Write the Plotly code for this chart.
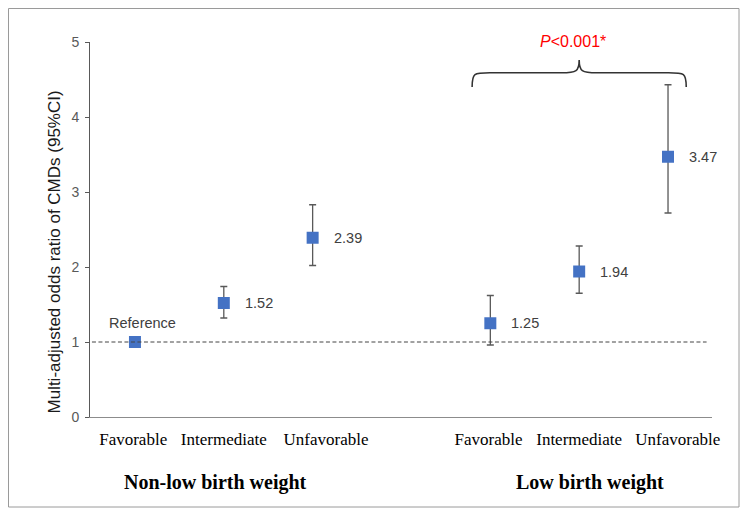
import plotly.graph_objects as go

# ---- data ----
categories = ["Favorable", "Intermediate", "Unfavorable"]
groups = ["Non-low birth weight", "Low birth weight"]
positions = [0, 1, 2, 4, 5, 6]
odds_ratio = [1.00, 1.52, 2.39, 1.25, 1.94, 3.47]
ci_low = [1.00, 1.32, 2.02, 0.96, 1.65, 2.72]
ci_high = [1.00, 1.74, 2.83, 1.62, 2.28, 4.43]
value_labels = ["", "1.52", "2.39", "1.25", "1.94", "3.47"]
tick_labels = categories + categories
y_ticks = [0, 1, 2, 3, 4, 5]

err_plus = [h - v for h, v in zip(ci_high, odds_ratio)]
err_minus = [v - l for l, v in zip(ci_low, odds_ratio)]
err_visible = [lbl != "" for lbl in value_labels]

SANS = "Liberation Sans, Arial, sans-serif"
SERIF = "Liberation Serif, Times New Roman, serif"

# figure is placed 8px in from the page edge (default body margin)
W, H = 740, 501
ML, MR, MT, MB = 82, 36, 34, 92
PW, PH = W - ML - MR, H - MT - MB

# small horizontal nudges of the category tick labels (as in the original layout)
label_nudge = [-0.02, 0.0, 0.15, -0.02, 0.0, 0.11]
tick_pos = [p + n for p, n in zip(positions, label_nudge)]

fig = go.Figure()
fig.add_trace(go.Scatter(
    x=positions, y=odds_ratio, mode="markers",
    marker=dict(symbol="square", size=12, color="#4472C4"),
    error_y=dict(type="data", symmetric=False,
                 array=[p if v else 0 for p, v in zip(err_plus, err_visible)],
                 arrayminus=[m if v else 0 for m, v in zip(err_minus, err_visible)],
                 color="#595959", thickness=1.3, width=3.5),
    showlegend=False, hoverinfo="skip"))

# value labels
for x, y, t in zip(positions, odds_ratio, value_labels):
    if t:
        fig.add_annotation(x=x, y=y, text=t, showarrow=False, xanchor="left",
                           xshift=19, font=dict(family=SANS, size=14.5, color="#404040"))
fig.add_annotation(x=positions[0], y=odds_ratio[0], text="Reference", showarrow=False,
                   yshift=19, xshift=8, font=dict(family=SANS, size=14.5, color="#404040"))

# reference line
fig.add_shape(type="line", xref="x", yref="y", x0=-0.484, x1=6.434, y0=1, y1=1,
              line=dict(color="#444444", width=1, dash="4px,2.5px"))

# brace over low birth weight group
xc = positions[4]
half = 1.205
x0, x1 = xc - half, xc + half
yb, ym, yt = 4.40, 4.59, 4.76
d = 0.2
path = (f"M {x0},{yb} C {x0},{ym} {x0+0.02},{ym} {x0+d},{ym} "
        f"L {xc-d},{ym} C {xc-0.03},{ym} {xc},{ym+0.02} {xc},{yt} "
        f"C {xc},{ym+0.02} {xc+0.03},{ym} {xc+d},{ym} "
        f"L {x1-d},{ym} C {x1-0.02},{ym} {x1},{ym} {x1},{yb}")
fig.add_shape(type="path", xref="x", yref="y", path=path,
              line=dict(color="#333333", width=1.6))
fig.add_annotation(x=xc, y=(MT + PH - 33) / PH, yref="paper", yanchor="middle",
                   text="<i>P</i><0.001*", showarrow=False, xshift=-6,
                   font=dict(family=SANS, size=16, color="#FF0000"))

# group labels
for gx, g in zip([0.91, 5.12], groups):
    fig.add_annotation(x=gx, xref="x", y=(PH + MT - (482 - 8)) / PH, yref="paper", yanchor="middle",
                       text=f"<b>{g}</b>", showarrow=False,
                       font=dict(family=SERIF, size=20, color="#000000"))

# y-axis title
fig.add_annotation(x=(34 - ML) / PW, xref="paper", y=2.2, yref="y", text="Multi-adjusted odds ratio of CMDs (95%CI)",
                   textangle=-90, showarrow=False, font=dict(family=SANS, size=17, color="#1a1a1a"))

# figure border
fig.add_shape(type="rect", xref="paper", yref="paper",
              x0=(0.5 - ML) / PW, x1=(731 - ML) / PW, y0=(MT + PH - 499) / PH, y1=(MT + PH - 0.5) / PH,
              line=dict(color="#9a9a9a", width=1), fillcolor="rgba(0,0,0,0)")

fig.update_layout(
    width=W, height=H,
    margin=dict(l=ML, r=MR, t=MT, b=MB),
    paper_bgcolor="white", plot_bgcolor="white",
    xaxis=dict(range=[-0.506, 6.495], tickvals=tick_pos, ticktext=tick_labels,
               showgrid=False, zeroline=False, showline=True, linecolor="#8c8c8c", linewidth=1,
               ticks="", ticklabelstandoff=7,
               tickfont=dict(family=SERIF, size=17, color="#000000")),
    yaxis=dict(range=[0, 5], tickvals=y_ticks, showgrid=False, zeroline=False,
               showline=True, linecolor="#595959", linewidth=1, ticks="outside", ticklen=4,
               tickcolor="#595959", ticklabelstandoff=3,
               tickfont=dict(family=SANS, size=14, color="#595959")),
)

fig.write_html("out.html")
